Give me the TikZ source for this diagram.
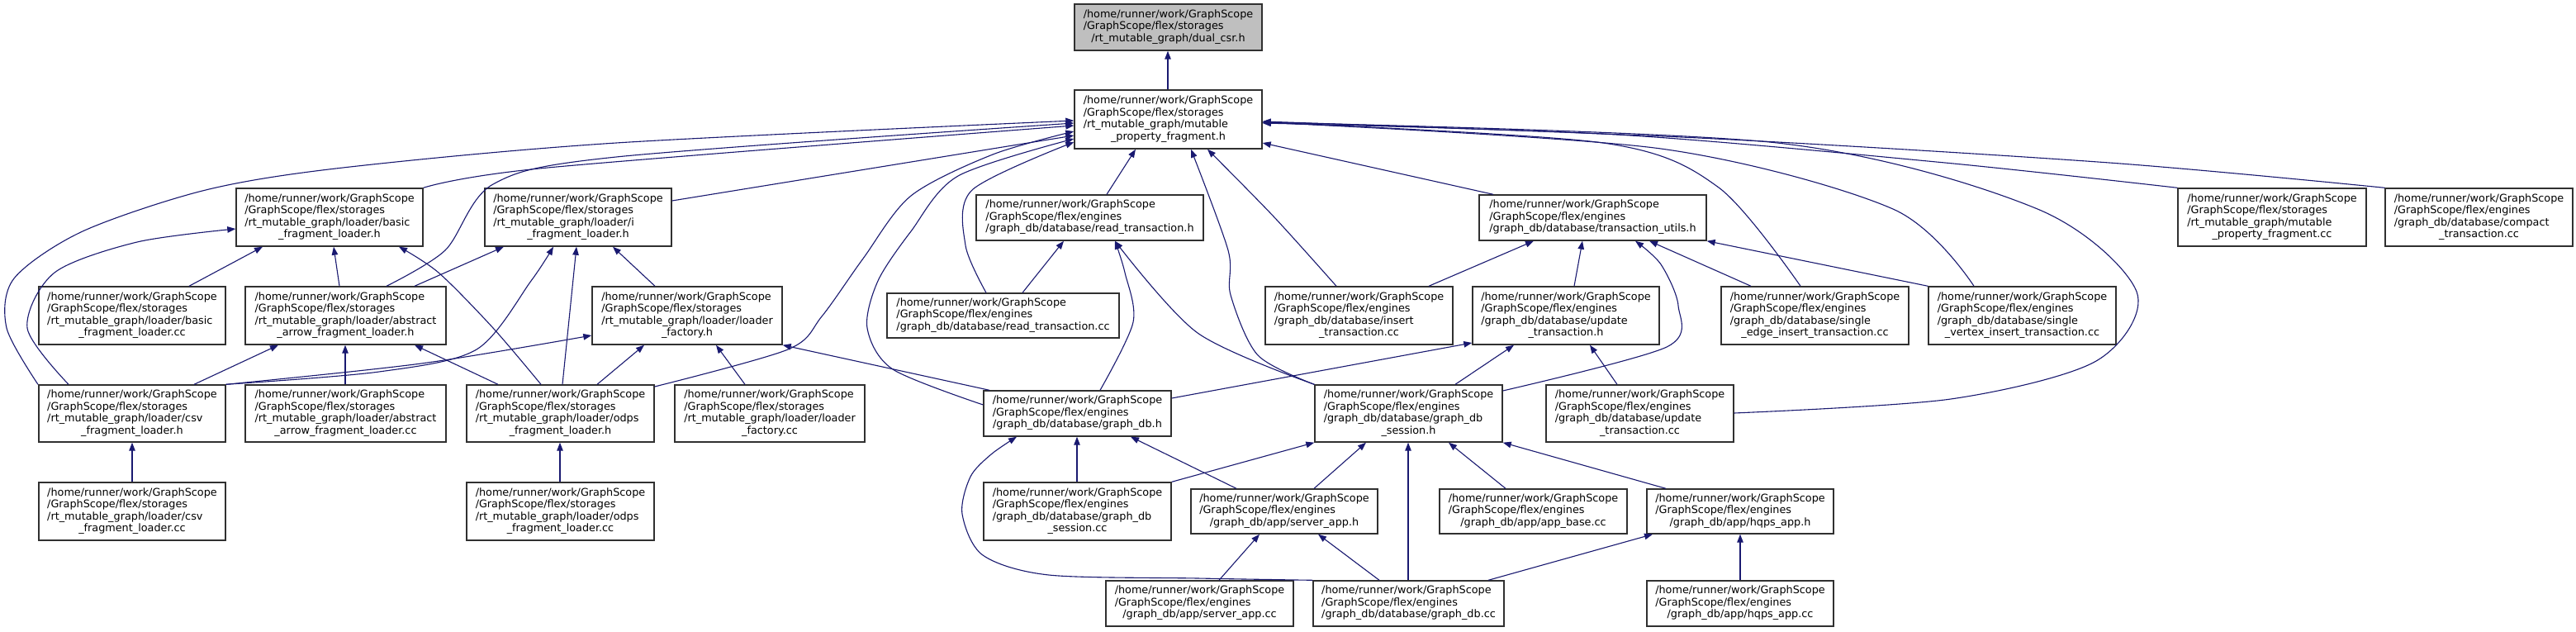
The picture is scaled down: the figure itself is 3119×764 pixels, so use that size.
\documentclass[tikz,border=0pt]{standalone}
\usepackage{fontspec}
\setmainfont{DejaVu Sans}
\usetikzlibrary{arrows.meta}
\definecolor{edgeblue}{HTML}{191970}
\definecolor{rootgray}{HTML}{BFBFBF}
\definecolor{boxline}{HTML}{303030}
\newcommand\ptxt[1]{\begin{tabular}{@{}l@{}}#1\end{tabular}}
\newcommand\lastc[1]{\multicolumn{1}{@{}c@{}}{#1}}
\begin{document}
\begin{tikzpicture}[x=1pt,y=-1pt,
  box/.style={draw=boxline, line width=1.4pt, fill=white, inner sep=0pt,
    font=\fontsize{12.8}{14.5}\selectfont},
  edge/.style={draw=edgeblue, line width=1.1pt, -{Triangle[length=10pt,width=7.5pt]}},
]
\fill[white] (0,0) rectangle (3119,764);
\useasboundingbox (0,0) rectangle (3119,764);

% ---------- nodes ----------
\node[box, fill=rootgray, minimum width=227pt, minimum height=56pt] (dual) at (1414.5,33)
  {\ptxt{/home/runner/work/GraphScope\\/GraphScope/flex/storages\\\lastc{/rt\_mutable\_graph/dual\_csr.h}}};
\node[box, minimum width=227pt, minimum height=71pt] (mpf) at (1414.5,144.5)
  {\ptxt{/home/runner/work/GraphScope\\/GraphScope/flex/storages\\/rt\_mutable\_graph/mutable\\\lastc{\_property\_fragment.h}}};

\node[box, minimum width=226pt, minimum height=70pt] (basich) at (399,263)
  {\ptxt{/home/runner/work/GraphScope\\/GraphScope/flex/storages\\/rt\_mutable\_graph/loader/basic\\\lastc{\_fragment\_loader.h}}};
\node[box, minimum width=226pt, minimum height=70pt] (ifrag) at (700,263)
  {\ptxt{/home/runner/work/GraphScope\\/GraphScope/flex/storages\\/rt\_mutable\_graph/loader/i\\\lastc{\_fragment\_loader.h}}};
\node[box, minimum width=275pt, minimum height=55pt] (readh) at (1319.5,263.5)
  {\ptxt{/home/runner/work/GraphScope\\/GraphScope/flex/engines\\\lastc{/graph\_db/database/read\_transaction.h}}};
\node[box, minimum width=275pt, minimum height=55pt] (tuh) at (1928.5,263.5)
  {\ptxt{/home/runner/work/GraphScope\\/GraphScope/flex/engines\\\lastc{/graph\_db/database/transaction\_utils.h}}};
\node[box, minimum width=228pt, minimum height=70pt] (mpfcc) at (2751,263)
  {\ptxt{/home/runner/work/GraphScope\\/GraphScope/flex/storages\\/rt\_mutable\_graph/mutable\\\lastc{\_property\_fragment.cc}}};
\node[box, minimum width=227pt, minimum height=70pt] (compact) at (3001.5,263)
  {\ptxt{/home/runner/work/GraphScope\\/GraphScope/flex/engines\\/graph\_db/database/compact\\\lastc{\_transaction.cc}}};

\node[box, minimum width=226pt, minimum height=70pt] (basiccc) at (160,382)
  {\ptxt{/home/runner/work/GraphScope\\/GraphScope/flex/storages\\/rt\_mutable\_graph/loader/basic\\\lastc{\_fragment\_loader.cc}}};
\node[box, minimum width=243pt, minimum height=70pt] (aah) at (418.5,382)
  {\ptxt{/home/runner/work/GraphScope\\/GraphScope/flex/storages\\/rt\_mutable\_graph/loader/abstract\\\lastc{\_arrow\_fragment\_loader.h}}};
\node[box, minimum width=230pt, minimum height=70pt] (lfh) at (832,382)
  {\ptxt{/home/runner/work/GraphScope\\/GraphScope/flex/storages\\/rt\_mutable\_graph/loader/loader\\\lastc{\_factory.h}}};
\node[box, minimum width=281pt, minimum height=54pt] (readcc) at (1214.5,382)
  {\ptxt{/home/runner/work/GraphScope\\/GraphScope/flex/engines\\\lastc{/graph\_db/database/read\_transaction.cc}}};
\node[box, minimum width=227pt, minimum height=70pt] (insert) at (1645.5,382)
  {\ptxt{/home/runner/work/GraphScope\\/GraphScope/flex/engines\\/graph\_db/database/insert\\\lastc{\_transaction.cc}}};
\node[box, minimum width=226pt, minimum height=70pt] (updh) at (1896,382)
  {\ptxt{/home/runner/work/GraphScope\\/GraphScope/flex/engines\\/graph\_db/database/update\\\lastc{\_transaction.h}}};
\node[box, minimum width=227pt, minimum height=70pt] (sedge) at (2197.5,382)
  {\ptxt{/home/runner/work/GraphScope\\/GraphScope/flex/engines\\/graph\_db/database/single\\\lastc{\_edge\_insert\_transaction.cc}}};
\node[box, minimum width=227pt, minimum height=70pt] (svert) at (2448.5,382)
  {\ptxt{/home/runner/work/GraphScope\\/GraphScope/flex/engines\\/graph\_db/database/single\\\lastc{\_vertex\_insert\_transaction.cc}}};

\node[box, minimum width=226pt, minimum height=69pt] (csvh) at (160,500.5)
  {\ptxt{/home/runner/work/GraphScope\\/GraphScope/flex/storages\\/rt\_mutable\_graph/loader/csv\\\lastc{\_fragment\_loader.h}}};
\node[box, minimum width=243pt, minimum height=69pt] (aacc) at (418.5,500.5)
  {\ptxt{/home/runner/work/GraphScope\\/GraphScope/flex/storages\\/rt\_mutable\_graph/loader/abstract\\\lastc{\_arrow\_fragment\_loader.cc}}};
\node[box, minimum width=227pt, minimum height=69pt] (odpsh) at (678.5,500.5)
  {\ptxt{/home/runner/work/GraphScope\\/GraphScope/flex/storages\\/rt\_mutable\_graph/loader/odps\\\lastc{\_fragment\_loader.h}}};
\node[box, minimum width=230pt, minimum height=69pt] (lfcc) at (932,500.5)
  {\ptxt{/home/runner/work/GraphScope\\/GraphScope/flex/storages\\/rt\_mutable\_graph/loader/loader\\\lastc{\_factory.cc}}};
\node[box, minimum width=227pt, minimum height=55pt] (gdbh) at (1304.5,500.5)
  {\ptxt{/home/runner/work/GraphScope\\/GraphScope/flex/engines\\\lastc{/graph\_db/database/graph\_db.h}}};
\node[box, minimum width=227pt, minimum height=69pt] (sessh) at (1705.5,500.5)
  {\ptxt{/home/runner/work/GraphScope\\/GraphScope/flex/engines\\/graph\_db/database/graph\_db\\\lastc{\_session.h}}};
\node[box, minimum width=227pt, minimum height=69pt] (updcc) at (1985.5,500.5)
  {\ptxt{/home/runner/work/GraphScope\\/GraphScope/flex/engines\\/graph\_db/database/update\\\lastc{\_transaction.cc}}};

\node[box, minimum width=226pt, minimum height=70pt] (csvcc) at (160,619)
  {\ptxt{/home/runner/work/GraphScope\\/GraphScope/flex/storages\\/rt\_mutable\_graph/loader/csv\\\lastc{\_fragment\_loader.cc}}};
\node[box, minimum width=227pt, minimum height=70pt] (odpscc) at (678.5,619)
  {\ptxt{/home/runner/work/GraphScope\\/GraphScope/flex/storages\\/rt\_mutable\_graph/loader/odps\\\lastc{\_fragment\_loader.cc}}};
\node[box, minimum width=227pt, minimum height=70pt] (sesscc) at (1304.5,619)
  {\ptxt{/home/runner/work/GraphScope\\/GraphScope/flex/engines\\/graph\_db/database/graph\_db\\\lastc{\_session.cc}}};
\node[box, minimum width=226pt, minimum height=54pt] (serverh) at (1555,619)
  {\ptxt{/home/runner/work/GraphScope\\/GraphScope/flex/engines\\\lastc{/graph\_db/app/server\_app.h}}};
\node[box, minimum width=227pt, minimum height=54pt] (appbase) at (1856.5,619)
  {\ptxt{/home/runner/work/GraphScope\\/GraphScope/flex/engines\\\lastc{/graph\_db/app/app\_base.cc}}};
\node[box, minimum width=226pt, minimum height=54pt] (hqpsh) at (2107,619)
  {\ptxt{/home/runner/work/GraphScope\\/GraphScope/flex/engines\\\lastc{/graph\_db/app/hqps\_app.h}}};

\node[box, minimum width=227pt, minimum height=55pt] (servercc) at (1452.5,730.5)
  {\ptxt{/home/runner/work/GraphScope\\/GraphScope/flex/engines\\\lastc{/graph\_db/app/server\_app.cc}}};
\node[box, minimum width=231pt, minimum height=55pt] (gdbcc) at (1705.5,730.5)
  {\ptxt{/home/runner/work/GraphScope\\/GraphScope/flex/engines\\\lastc{/graph\_db/database/graph\_db.cc}}};
\node[box, minimum width=226pt, minimum height=55pt] (hqpscc) at (2107,730.5)
  {\ptxt{/home/runner/work/GraphScope\\/GraphScope/flex/engines\\\lastc{/graph\_db/app/hqps\_app.cc}}};

% ---------- edges ----------
\draw[edge] (1414,0 |- mpf.north) -- (1414,0 |- dual.south);
% into mpf, left side
\draw[edge] plot[smooth] coordinates {(46,0 |- csvh.north) (8,397) (17,337) (100,280) (249,230) (415,203) (746,173) (mpf.west |- 0,146)};
\draw[edge] plot[smooth] coordinates {(468,0 |- aah.north) (539,303) (597,223) (746,190) (mpf.west |- 0,149)};
\draw[edge] plot[smooth] coordinates {(basich.north east) (663,203) (mpf.west |- 0,152)};
\draw[edge] plot[smooth] coordinates {(odpsh.east |- 0,468) (954,423) (995,383) (1045,313) (1103,237) (1202,187) (mpf.west |- 0,159)};
\draw[edge] (ifrag.east |- 0,243) -- (mpf.west |- 0,164);
\draw[edge] plot[smooth] coordinates {(gdbh.west |- 0,490) (1081,447) (1050,397) (1063,340) (1103,280) (1160,213) (mpf.west |- 0,168)};
\draw[edge] plot[smooth] coordinates {(1194,0 |- readcc.north) (1169,297) (1177,230) (mpf.west |- 0,172)};
% into mpf, bottom
\draw[edge] (1340,0 |- readh.north) -- (1375,0 |- mpf.south);
\draw[edge] plot[smooth] coordinates {(sessh.north west) (1523,430) (1490,357) (1487,303) (1442,0 |- mpf.south)};
\draw[edge] plot[smooth] coordinates {(1618,0 |- insert.north) (1542,262) (1462,0 |- mpf.south)};
% into mpf, right side
\draw[edge] (1808,0 |- tuh.north) -- (mpf.east |- 0,173);
\draw[edge] plot[smooth] coordinates {(mpfcc.north west) (2355,197) (1958,163) (mpf.east |- 0,149)};
\draw[edge] plot[smooth] coordinates {(compact.north west) (2554,197) (2057,167) (mpf.east |- 0,147)};
\draw[edge] plot[smooth] coordinates {(2180,0 |- sedge.north) (2081,227) (1941,173) (mpf.east |- 0,148)};
\draw[edge] plot[smooth] coordinates {(2390,0 |- svert.north) (2292,253) (2011,180) (mpf.east |- 0,148)};
\draw[edge] plot[smooth] coordinates {(updcc.east |- 0,500) (2362,483) (2538,437) (2587,353) (2467,253) (2152,173) (mpf.east |- 0,148)};

% loaders
\draw[edge] plot[smooth] coordinates {(83,0 |- csvh.north) (33,397) (66,330) (166,293) (basich.west |- 0,277)};
\draw[edge] (229,0 |- basiccc.north) -- (318,0 |- basich.south);
\draw[edge] (411,0 |- aah.north) -- (404,0 |- basich.south);
\draw[edge] plot[smooth] coordinates {(655,0 |- odpsh.north) (597,397) (531,330) (483,0 |- basich.south)};
\draw[edge] (502,0 |- aah.north) -- (610,0 |- ifrag.south);
\draw[edge] plot[smooth] coordinates {(csvh.north east) (459,450) (577,423) (643,340) (670,0 |- ifrag.south)};
\draw[edge] (681,0 |- odpsh.north) -- (698,0 |- ifrag.south);
\draw[edge] (793,0 |- lfh.north) -- (742,0 |- ifrag.south);
\draw[edge] (235,0 |- csvh.north) -- (337,0 |- aah.south);
\draw[edge] (418,0 |- aacc.north) -- (418,0 |- aah.south);
\draw[edge] (603,0 |- odpsh.north) -- (502,0 |- aah.south);
\draw[edge] plot[smooth] coordinates {(csvh.north east) (510,440) (lfh.west |- 0,406)};
\draw[edge] (723,0 |- odpsh.north) -- (780,0 |- lfh.south);
\draw[edge] (902,0 |- lfcc.north) -- (867,0 |- lfh.south);
\draw[edge] (1198,0 |- gdbh.north) -- (lfh.south east);
\draw[edge] (160,0 |- csvcc.north) -- (160,0 |- csvh.south);
\draw[edge] (678,0 |- odpscc.north) -- (678,0 |- odpsh.south);

% engines
\draw[edge] (1238,0 |- readcc.north) -- (1288,0 |- readh.south);
\draw[edge] plot[smooth] coordinates {(1332,0 |- gdbh.north) (1372,390) (1362,330) (1350,0 |- readh.south)};
\draw[edge] plot[smooth] coordinates {(sessh.north west) (1450,403) (1350,0 |- readh.south)};
\draw[edge] (1730,0 |- insert.north) -- (1857,0 |- tuh.south);
\draw[edge] (1906,0 |- updh.north) -- (1916,0 |- tuh.south);
\draw[edge] (2120,0 |- sedge.north) -- (1997,0 |- tuh.south);
\draw[edge] (svert.north west) -- (tuh.south east);
\draw[edge] plot[smooth] coordinates {(sessh.east |- 0,473) (2018,420) (2032,370) (2011,320) (1980,0 |- tuh.south)};
\draw[edge] (gdbh.east |- 0,482) -- (updh.west |- 0,415);
\draw[edge] (1762,0 |- sessh.north) -- (1833,0 |- updh.south);
\draw[edge] (1958,0 |- updcc.north) -- (1925,0 |- updh.south);

\draw[edge] (1304,0 |- sesscc.north) -- (1304,0 |- gdbh.south);
\draw[edge] (1497,0 |- serverh.north) -- (1369,0 |- gdbh.south);
\draw[edge] plot[smooth] coordinates {(gdbcc.north west) (1450,700) (1270,696) (1190,672) (1165,622) (1175,577) (1200,550) (1231,0 |- gdbh.south)};
\draw[edge] (sesscc.north east) -- (sessh.south west);
\draw[edge] (1591,0 |- serverh.north) -- (1654,0 |- sessh.south);
\draw[edge] (1705,0 |- gdbcc.north) -- (1705,0 |- sessh.south);
\draw[edge] (1823,0 |- appbase.north) -- (1754,0 |- sessh.south);
\draw[edge] (2017,0 |- hqpsh.north) -- (sessh.south east);
\draw[edge] (1476,0 |- servercc.north) -- (1525,0 |- serverh.south);
\draw[edge] (1670,0 |- gdbcc.north) -- (1596,0 |- serverh.south);
\draw[edge] (1802,0 |- gdbcc.north) -- (2001,0 |- hqpsh.south);
\draw[edge] (2107,0 |- hqpscc.north) -- (2107,0 |- hqpsh.south);
\end{tikzpicture}
\end{document}
